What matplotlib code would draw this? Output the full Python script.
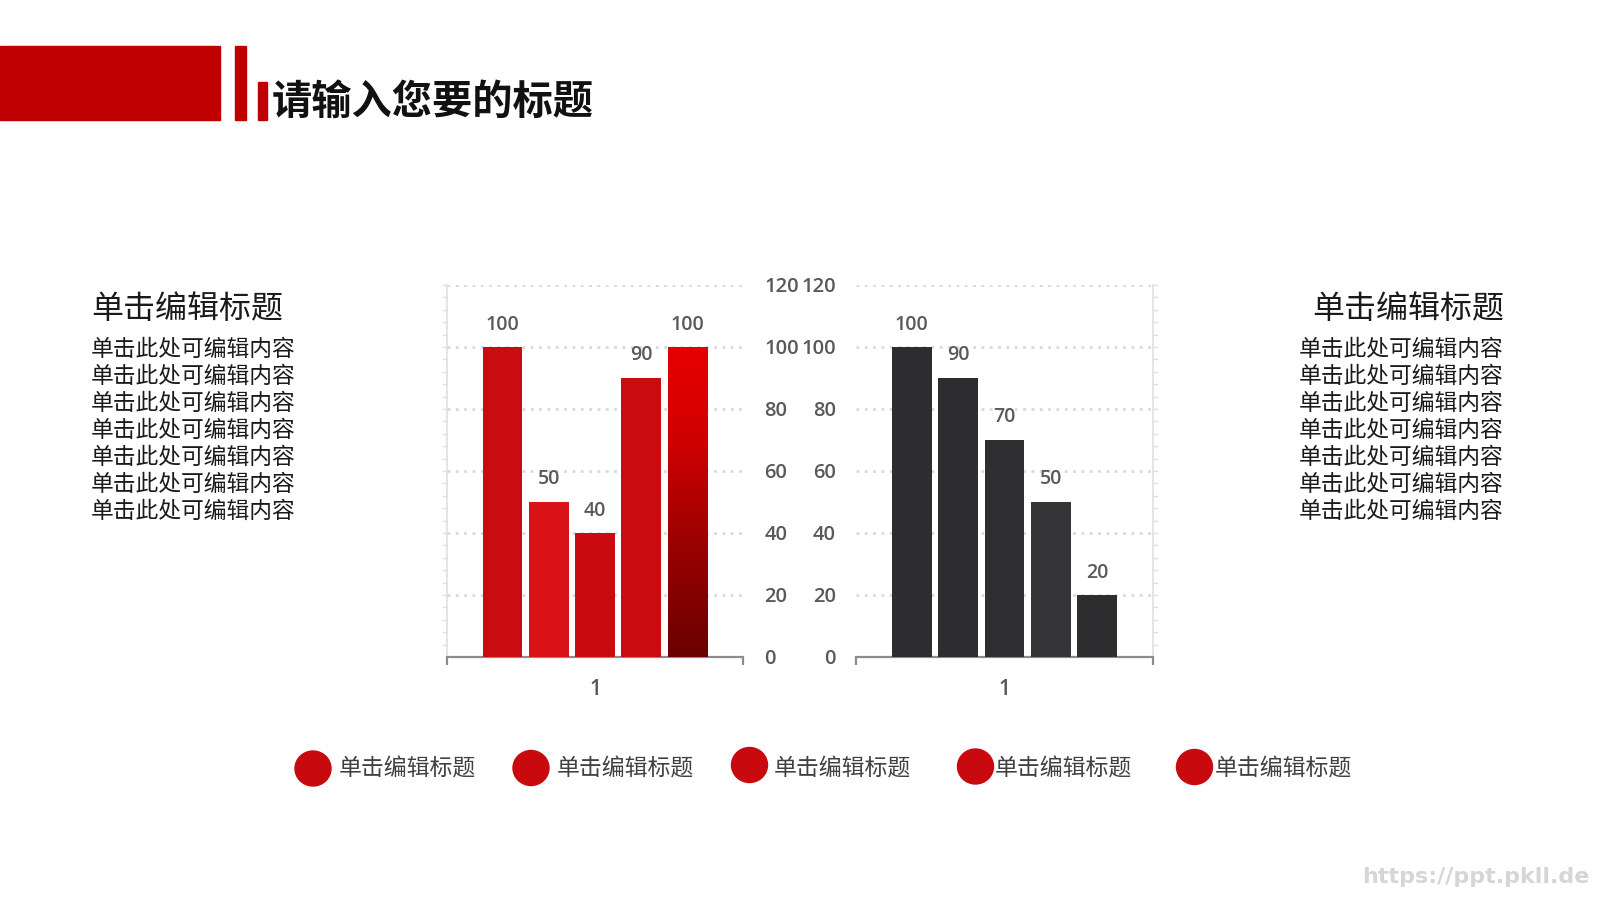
import numpy as np
import matplotlib
matplotlib.use('Agg')
import matplotlib.pyplot as plt
from matplotlib.patches import Rectangle, Ellipse
from matplotlib.colors import LinearSegmentedColormap

plt.rcParams['font.family'] = ['Noto Sans CJK SC', 'DejaVu Sans']

# chart data
left_values = [100, 50, 40, 90, 100]
right_values = [100, 90, 70, 50, 20]
left_colors = ['#c80c10', '#d81216', '#c90a0e', '#c80c10', '#e00000']
right_colors = ['#2d2d2f', '#2d2d2f', '#2e2e30', '#353537', '#2d2d2f']
category = '1'
y_ticks = [0, 20, 40, 60, 80, 100, 120]

title = '请输入您要的标题'
side_title = '单击编辑标题'
side_lines = ['单击此处可编辑内容'] * 7
legend_labels = ['单击编辑标题'] * 5
# legend layout (pixels): dot centers and text starts
legend_dot_x = [313, 531, 749.5, 975.5, 1194.5]
legend_dot_y = [768.5, 768, 765, 766.5, 767]
legend_text_x = [339, 557, 774, 995, 1215]
watermark = 'https://ppt.pkll.de'

W, H = 1600, 900
fig = plt.figure(figsize=(16, 9), dpi=100)
fig.patch.set_facecolor('white')

def px_axes(x0, y0, x1, y1):
    # axes from pixel box (top-left origin)
    return fig.add_axes([x0 / W, 1 - y1 / H, (x1 - x0) / W, (y1 - y0) / H])

label_color = '#595959'
grid_color = '#d9d9d9'
num_font = ['Open Sans', 'DejaVu Sans']

def bar_panel(ax, values, colors, side):
    pos = np.arange(len(values))
    bars = ax.bar(pos, values, width=0.86, color=colors, zorder=3)
    ax.set_xlim(-1.2, 5.2)
    ax.set_ylim(0, 120)
    for v in y_ticks[1:]:
        ax.axhline(v, color=grid_color, lw=2, ls=(0, (1, 2)), zorder=1)
    for s in ['top', 'left', 'right']:
        ax.spines[s].set_visible(False)
    ax.spines['bottom'].set_color('#8c8c8c')
    ax.spines['bottom'].set_linewidth(1.6)
    ax.set_xticks([-1.2, 5.2])
    ax.set_xticklabels([])
    ax.tick_params(axis='x', length=6, width=1.6, color='#8c8c8c')
    ax.set_yticks(y_ticks)
    ax.set_yticklabels([str(t) for t in y_ticks], color=label_color,
                       fontsize=14.5, fontweight='semibold', family=num_font)
    ax.tick_params(axis='y', length=0)
    if side == 'left':
        ax.yaxis.tick_right()
        ax.tick_params(axis='y', pad=15.5)
        for t in ax.get_yticklabels():
            t.set_horizontalalignment('left')
        edge = 0
    else:
        ax.tick_params(axis='y', pad=14.5)
        edge = 1
    # light frame line with small ticks on the outer side
    ax.plot([edge, edge], [0, 1], transform=ax.transAxes, color='#e0e0e0', lw=1.2, clip_on=False)
    for v in range(4, 121, 4):
        d = -0.015 if edge == 0 else 0.015
        ax.plot([edge, edge + d], [v / 120, v / 120], transform=ax.transAxes,
                color='#e0e0e0', lw=1, clip_on=False)
    for b, v in zip(bars, values):
        ax.annotate(str(v), (b.get_x() + b.get_width() / 2, v), xytext=(0, 9),
                    textcoords='offset points', ha='center', va='bottom',
                    fontsize=14, fontweight='semibold', color=label_color,
                    family=num_font)
    ax.text(0.5, -0.06, category, transform=ax.transAxes, ha='center', va='top',
            fontsize=15, color=label_color, fontweight='semibold', family=num_font)
    return bars

ax1 = px_axes(447, 285, 743, 657)
bars1 = bar_panel(ax1, left_values, left_colors, 'left')
# gradient on the last red bar
b = bars1[-1]
cmap = LinearSegmentedColormap.from_list('g', [(0, '#6a0000'), (0.45, '#a80000'), (0.7, '#d00000'), (1, '#e60000')])
grad = np.linspace(0, 1, 256).reshape(-1, 1)
im = ax1.imshow(grad, cmap=cmap, origin='lower', aspect='auto', zorder=4,
                extent=[b.get_x(), b.get_x() + b.get_width(), 0, b.get_height()])
im.set_clip_path(b)
ax1.set_xlim(-1.2, 5.2)
ax1.set_ylim(0, 120)

ax2 = px_axes(856, 285, 1153, 657)
bar_panel(ax2, right_values, right_colors, 'right')

# overlay for decorations and text
ov = fig.add_axes([0, 0, 1, 1], zorder=-1)
ov.set_xlim(0, W)
ov.set_ylim(H, 0)
ov.axis('off')

red = '#c00000'
ov.add_patch(Rectangle((0, 46), 220, 74, color=red))
ov.add_patch(Rectangle((235, 46), 11, 74, color=red))
ov.add_patch(Rectangle((258, 82), 9, 38, color=red))
ov.text(272, 102, title, fontsize=29, fontweight='bold', color='#111111', va='center', ha='left')

ov.text(91, 309, side_title, fontsize=23, color='#1a1a1a', va='center', ha='left')
ov.text(1504, 309, side_title, fontsize=23, color='#1a1a1a', va='center', ha='right')
for i, line in enumerate(side_lines):
    y = 349 + i * 27
    ov.text(91, y, line, fontsize=16.4, color='#1a1a1a', va='center', ha='left')
    ov.text(1504, y, line, fontsize=16.4, color='#1a1a1a', va='center', ha='right')

for x, y, tx, lab in zip(legend_dot_x, legend_dot_y, legend_text_x, legend_labels):
    ov.add_patch(Ellipse((x, y), 36, 35, color='#c8090e'))
    ov.text(tx, 769, lab, fontsize=16.5, color='#404040', va='center', ha='left')

ov.text(1590, 877, watermark, fontsize=16, color='#d6d6d6', ha='right', va='center',
        fontweight='bold', family=['DejaVu Sans'])

fig.savefig('out.png', dpi=100, facecolor='white')
